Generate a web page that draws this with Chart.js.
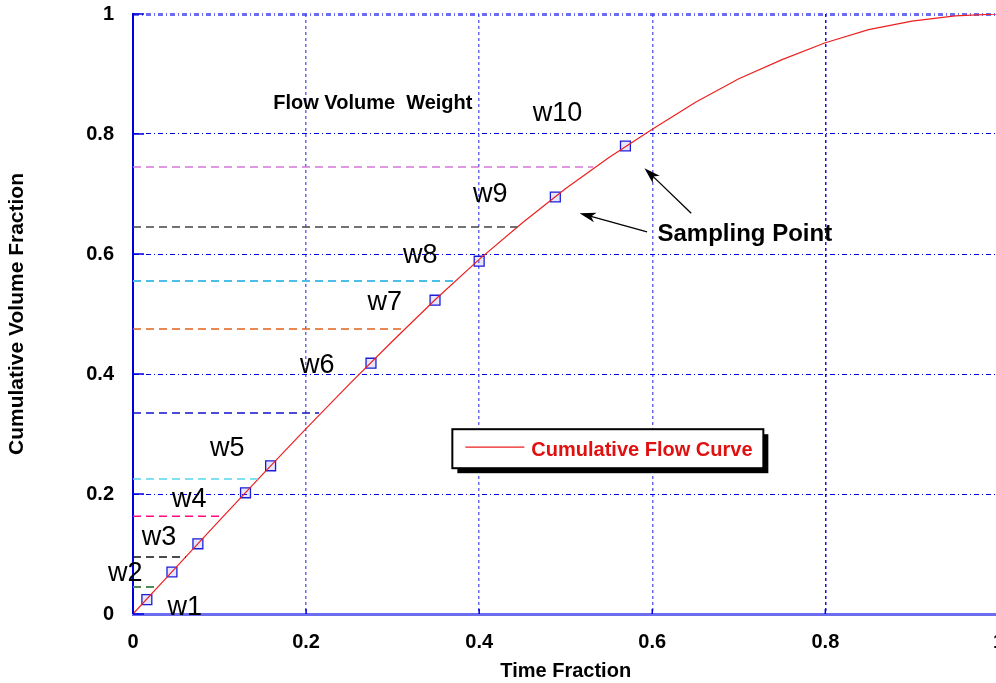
<!DOCTYPE html>
<html>
<head>
<meta charset="utf-8">
<script src="https://cdn.jsdelivr.net/npm/chart.js@4.4.0/dist/chart.umd.min.js"></script>
<style>
  html, body { margin: 0; padding: 0; background: #fff; overflow: hidden; }
  canvas { display: block; margin-top: -17px; }
</style>
</head>
<body>
<canvas id="flowChart" width="1020" height="700"></canvas>
<script>
const timeFraction = [0, 0.05, 0.10, 0.15, 0.20, 0.25, 0.30, 0.35, 0.40, 0.45, 0.50,
                      0.55, 0.60, 0.65, 0.70, 0.75, 0.80, 0.85, 0.90, 0.95, 1.00];
const volumeFraction = [0, 0.078, 0.156, 0.233, 0.309, 0.383, 0.455, 0.525, 0.591, 0.652, 0.709,
                        0.761, 0.808, 0.853, 0.892, 0.924, 0.952, 0.974, 0.988, 0.997, 1.000];

// sampling points (blue squares)
const sampleTime = [0.016, 0.045, 0.075, 0.130, 0.159, 0.275, 0.349, 0.400, 0.488, 0.569];
const sampleVolume = [0.024, 0.070, 0.117, 0.202, 0.247, 0.418, 0.523, 0.588, 0.695, 0.780];

// weight boundaries: dashed lines from the y axis to the curve
const weightLevels = [0.045, 0.095, 0.163, 0.225, 0.335, 0.475, 0.555, 0.645, 0.745];
const weightEnds = [0.029, 0.061, 0.105, 0.145, 0.215, 0.312, 0.373, 0.444, 0.532];
const weightColors = ['#4e8a52', '#111111', '#ff0a80', '#55d8ec', '#1010c8',
                      '#e2621a', '#4cbee8', '#444444', '#d577d5'];

// w labels, anchored at left / baseline
const weightLabels = ['w1', 'w2', 'w3', 'w4', 'w5', 'w6', 'w7', 'w8', 'w9', 'w10'];
const labelTime = [0.040, -0.029, 0.010, 0.045, 0.089, 0.193, 0.271, 0.312, 0.393, 0.462];
const labelVolume = [-0.002, 0.055, 0.115, 0.178, 0.263, 0.402, 0.507, 0.585, 0.687, 0.822];

// arrows from "Sampling Point" to the markers
const arrowFrom = [[0.594, 0.637], [0.645, 0.668]];
const arrowTo = [[0.516, 0.668], [0.591, 0.743]];

const xTicks = [0, 0.2, 0.4, 0.6, 0.8, 1];
const yTicks = [0, 0.2, 0.4, 0.6, 0.8, 1];

const FONT = '"Liberation Sans", Arial, sans-serif';

const datasets = [];
for (let i = 0; i < weightLevels.length; i++) {
    datasets.push({
        data: [{x: 0, y: weightLevels[i]}, {x: weightEnds[i], y: weightLevels[i]}],
        borderColor: weightColors[i],
        borderWidth: (i === 0 || i === 6) ? 2 : 1.4,
        borderDash: [8, 5],
        pointRadius: 0,
        showLine: true
    });
}
datasets.push({
    label: 'Cumulative Flow Curve',
    data: timeFraction.map((t, i) => ({x: t, y: volumeFraction[i]})),
    borderColor: '#ee2020',
    borderWidth: 1.2,
    pointRadius: 0,
    showLine: true,
    tension: 0
});
datasets.push({
    data: sampleTime.map((t, i) => ({x: t, y: sampleVolume[i]})),
    pointStyle: 'rect',
    pointRadius: 7,
    borderColor: '#1c1cd8',
    borderWidth: 1.3,
    backgroundColor: 'rgba(90,90,255,0.15)',
    showLine: false
});

const annotate = {
    id: 'annotate',
    afterDraw(chart) {
        const {ctx, scales: {x, y}} = chart;
        const px = v => x.getPixelForValue(v);
        const py = v => y.getPixelForValue(v);
        ctx.save();

        // inner tick marks
        ctx.strokeStyle = '#0000dd';
        ctx.lineWidth = 1.5;
        ctx.beginPath();
        yTicks.forEach(v => { ctx.moveTo(px(0), py(v)); ctx.lineTo(px(0) + 11, py(v)); });
        xTicks.forEach(v => { ctx.moveTo(px(v), py(0)); ctx.lineTo(px(v), py(0) - 5); });
        ctx.stroke();

        // texts
        ctx.fillStyle = '#000';
        ctx.textAlign = 'left';
        ctx.textBaseline = 'alphabetic';
        ctx.font = '27px ' + FONT;
        weightLabels.forEach((t, i) => ctx.fillText(t, px(labelTime[i]), py(labelVolume[i])));
        ctx.font = 'bold 20px ' + FONT;
        ctx.fillText('Flow Volume  Weight', px(0.162), py(0.842));
        ctx.font = 'bold 24px ' + FONT;
        ctx.fillText('Sampling Point', px(0.606), py(0.622));

        // arrows
        ctx.strokeStyle = '#000';
        ctx.lineWidth = 1.3;
        for (let i = 0; i < arrowFrom.length; i++) {
            const x0 = px(arrowFrom[i][0]), y0 = py(arrowFrom[i][1]);
            const x1 = px(arrowTo[i][0]), y1 = py(arrowTo[i][1]);
            const a = Math.atan2(y1 - y0, x1 - x0);
            ctx.beginPath();
            ctx.moveTo(x0, y0);
            ctx.lineTo(x1 - 10 * Math.cos(a), y1 - 10 * Math.sin(a));
            ctx.stroke();
            ctx.beginPath();
            ctx.moveTo(x1, y1);
            ctx.lineTo(x1 - 17 * Math.cos(a - 0.3), y1 - 17 * Math.sin(a - 0.3));
            ctx.lineTo(x1 - 12 * Math.cos(a), y1 - 12 * Math.sin(a));
            ctx.lineTo(x1 - 17 * Math.cos(a + 0.3), y1 - 17 * Math.sin(a + 0.3));
            ctx.closePath();
            ctx.fill();
        }

        // legend box with shadow
        const lx = px(0.369), ly = py(0.308), lw = 311, lh = 39;
        ctx.fillStyle = '#000';
        ctx.fillRect(lx + 5, ly + 5, lw, lh);
        ctx.fillStyle = '#fff';
        ctx.fillRect(lx, ly, lw, lh);
        ctx.lineWidth = 2;
        ctx.strokeRect(lx, ly, lw, lh);
        ctx.strokeStyle = '#ee2020';
        ctx.lineWidth = 1.2;
        ctx.beginPath();
        ctx.moveTo(lx + 13, ly + 18);
        ctx.lineTo(lx + 72, ly + 18);
        ctx.stroke();
        ctx.fillStyle = '#e01010';
        ctx.font = 'bold 20px ' + FONT;
        ctx.fillText('Cumulative Flow Curve', lx + 79, ly + 27);

        ctx.restore();
    }
};

new Chart('flowChart', {
    type: 'scatter',
    data: {datasets: datasets},
    options: {
        responsive: false,
        animation: false,
        layout: {padding: {top: 14, left: 0, right: 0, bottom: 0}},
        plugins: {legend: {display: false}, tooltip: {enabled: false}},
        scales: {
            x: {
                type: 'linear', min: 0, max: 1,
                afterFit: s => { s.height = 69; },
                ticks: {
                    stepSize: 0.2, padding: 16, color: '#000',
                    font: {family: FONT, size: 20, weight: 'bold'},
                    callback: v => String(+v.toFixed(1))
                },
                grid: {
                    drawTicks: false,
                    color: c => c.tick && Math.abs(c.tick.value - 0.8) < 1e-6 ? '#1010e0' : 'rgba(80,80,240,0.85)',
                    lineWidth: c => (c.tick && (c.tick.value < 1e-6 || c.tick.value > 0.999)) ? 0 : 1.5
                },
                border: {color: 'rgba(60,60,235,0.75)', width: 3, dash: [3, 3]},
                title: {
                    display: true, text: 'Time Fraction', color: '#000',
                    font: {family: FONT, size: 20, weight: 'bold'},
                    padding: {top: 0, bottom: 0}
                }
            },
            y: {
                min: 0, max: 1,
                afterFit: s => { s.width = 133; },
                ticks: {
                    stepSize: 0.2, padding: 19, color: '#000',
                    font: {family: FONT, size: 20, weight: 'bold'},
                    callback: v => String(+v.toFixed(1))
                },
                grid: {
                    drawTicks: false,
                    color: c => c.tick && c.tick.value > 0.999 ? 'rgba(60,60,235,0.75)' : '#0000e6',
                    lineWidth: c => c.tick && c.tick.value > 0.999 ? 3 : (c.tick && c.tick.value < 1e-6 ? 0 : 1)
                },
                border: {color: '#0000dd', width: 2, dash: [5, 3, 1, 3]},
                title: {
                    display: true, text: 'Cumulative Volume Fraction', color: '#000',
                    font: {family: FONT, size: 21, weight: 'bold'},
                    padding: {top: 5, bottom: 0}
                }
            }
        }
    },
    plugins: [annotate]
});
</script>
</body>
</html>
